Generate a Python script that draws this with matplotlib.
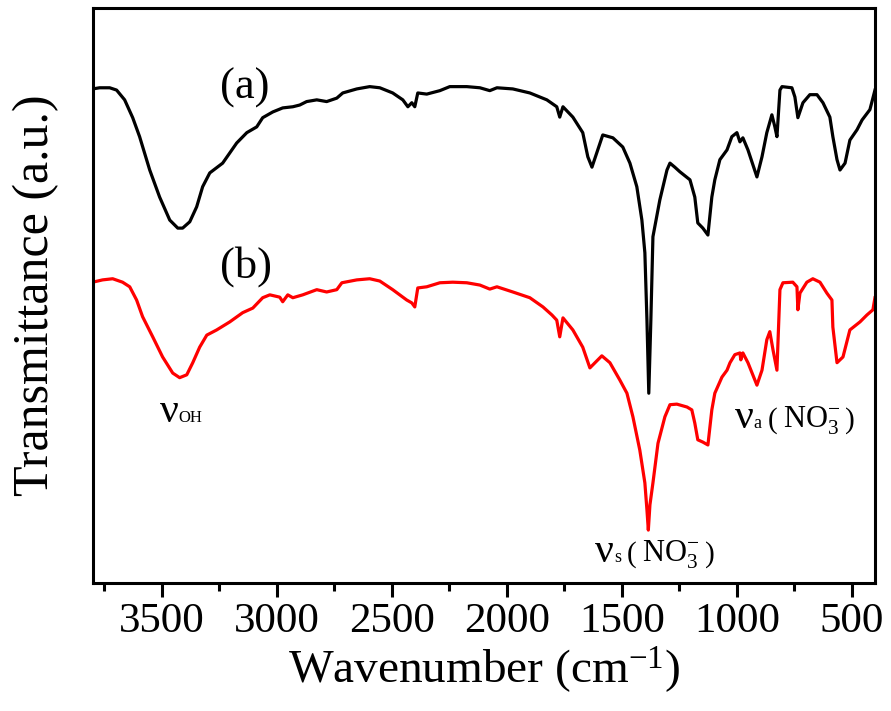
import matplotlib
matplotlib.use("Agg")
import matplotlib.pyplot as plt
from matplotlib.ticker import MultipleLocator
from matplotlib.offsetbox import TextArea, HPacker, AnnotationBbox

plt.rcParams['font.family'] = 'Liberation Serif'
plt.rcParams['mathtext.fontset'] = 'custom'
plt.rcParams['mathtext.rm'] = 'Liberation Serif'
plt.rcParams['mathtext.it'] = 'Liberation Serif:italic'

# spectrum (a), black
wn_a = [3800, 3770, 3726, 3696, 3661, 3626, 3596, 3552, 3509, 3465, 3430, 3409,
        3378, 3348, 3322, 3291, 3235, 3174, 3130, 3087, 3061, 3017, 2974, 2930,
        2900, 2870, 2826, 2783, 2739, 2713, 2652, 2596, 2552, 2496, 2452, 2430,
        2413, 2400, 2387, 2348, 2291, 2248, 2174, 2117, 2074, 2043, 1974, 1900,
        1826, 1783, 1770, 1756, 1713, 1670, 1648, 1630, 1609, 1583, 1539, 1496,
        1465, 1435, 1413, 1400, 1391, 1383, 1374, 1365, 1335, 1304, 1291, 1270,
        1248, 1204, 1183, 1170, 1148, 1126, 1109, 1096, 1074, 1043, 1022, 1000,
        987, 974, 952, 913, 891, 870, 848, 835, 826, 813, 804, 761, 748, 735,
        713, 683, 652, 626, 596, 583, 565, 552, 530, 509, 478, 456, 422, 409, 400]
t_a = [85.9, 86.1, 86.1, 85.7, 84.0, 80.9, 77.6, 71.8, 67.1, 63.1, 61.7, 61.7,
       62.8, 65.4, 68.9, 71.3, 73.0, 76.5, 78.3, 79.3, 80.9, 81.9, 82.6, 82.8,
       83.1, 83.7, 84.0, 83.7, 84.3, 85.2, 85.9, 86.3, 86.1, 85.2, 84.0, 82.8,
       83.5, 82.8, 85.2, 85.0, 85.6, 86.3, 86.3, 86.1, 85.6, 86.1, 85.9, 85.2,
       84.0, 82.8, 81.0, 82.8, 81.0, 78.3, 74.1, 72.3, 74.8, 77.9, 77.4, 75.8,
       73.0, 68.9, 63.1, 57.4, 45.7, 33.0, 45.7, 60.2, 66.6, 71.8, 73.0, 72.3,
       71.5, 70.1, 67.1, 62.6, 61.7, 60.5, 67.1, 70.1, 73.6, 75.3, 77.6, 78.3,
       76.7, 77.4, 75.3, 70.6, 74.1, 78.3, 81.4, 79.3, 77.6, 85.7, 86.3, 86.1, 84.5, 80.9,
       83.5, 84.9, 84.9, 83.5, 81.0, 77.6, 73.6, 71.8, 73.0, 77.0, 78.8, 80.5, 82.3, 84.3, 85.7]

# spectrum (b), red
wn_b = [3800, 3757, 3713, 3670, 3639, 3609, 3583, 3539, 3496, 3452, 3422, 3391,
        3365, 3335, 3304, 3261, 3204, 3148, 3104, 3061, 3030, 2987, 2974, 2952,
        2930, 2887, 2826, 2783, 2739, 2717, 2652, 2596, 2552, 2496, 2435, 2413,
        2400, 2387, 2348, 2291, 2235, 2174, 2117, 2074, 2043, 1974, 1900, 1843,
        1804, 1783, 1770, 1756, 1713, 1670, 1639, 1587, 1552, 1509, 1478, 1452,
        1422, 1400, 1391, 1385, 1378, 1365, 1343, 1313, 1291, 1261, 1217, 1196,
        1183, 1170, 1148, 1126, 1109, 1096, 1065, 1043, 1030, 1009, 987, 983,
        974, 952, 913, 891, 870, 857, 843, 826, 813, 800, 757, 739, 735, 726,
        696, 670, 639, 609, 587, 583, 565, 539, 509, 465, 435, 409, 400]
t_b = [52.3, 52.7, 52.9, 52.3, 51.5, 49.2, 46.3, 42.8, 39.3, 36.5, 35.7, 36.2,
       38.3, 41.0, 43.1, 44.0, 45.4, 47.0, 47.8, 49.6, 50.1, 49.7, 48.9, 50.1,
       49.6, 50.1, 51.0, 50.6, 51.0, 52.2, 52.7, 52.9, 52.5, 51.0, 49.2, 48.7,
       48.0, 51.3, 51.5, 52.2, 52.3, 52.2, 51.8, 51.1, 51.5, 50.6, 49.6, 48.0,
       46.6, 45.7, 42.8, 46.1, 44.0, 41.0, 37.4, 39.5, 38.3, 35.3, 33.0, 28.9,
       23.1, 17.4, 12.7, 9.2, 13.6, 17.4, 24.3, 28.9, 31.0, 31.1, 30.6, 30.1,
       27.8, 24.9, 24.5, 24.0, 30.1, 33.0, 35.8, 37.0, 38.3, 39.7, 40.0, 38.8,
       40.0, 38.3, 34.4, 37.0, 42.3, 43.7, 40.5, 37.0, 51.0, 52.2, 52.3, 51.5, 47.5, 50.4,
       52.3, 52.9, 52.3, 50.4, 49.2, 44.5, 38.3, 39.3, 44.0, 45.4, 46.6, 47.5, 49.6]

fig = plt.figure(figsize=(8.91, 7.11), dpi=100)
ax = fig.add_axes([0.104, 0.180, 0.878, 0.809])

ax.plot(wn_a, t_a, color='black', lw=2.3, solid_joinstyle='round')
ax.plot(wn_b, t_b, color='#ff0000', lw=2.3, solid_joinstyle='round')

ax.set_xlim(3800, 400)
ax.set_ylim(0, 100)
ax.xaxis.set_major_locator(MultipleLocator(500))
ax.xaxis.set_minor_locator(MultipleLocator(250))
ax.tick_params(axis='x', which='major', direction='out', length=10, width=2.2,
               labelsize=31, pad=4, top=False)
ax.tick_params(axis='x', which='minor', direction='out', length=6, width=2.2, top=False)
ax.tick_params(axis='y', which='both', left=False, right=False, labelleft=False)
for s in ax.spines.values():
    s.set_linewidth(2.2)

ax.set_xlabel('Wavenumber (cm$^{-1}$)', fontsize=34, labelpad=2)
ax.set_ylabel('Transmittance (a.u.)', fontsize=36, labelpad=24)

ax.text(3139, 86.1, '(a)', fontsize=32, ha='center', va='center')
ax.text(3135, 55.0, '(b)', fontsize=32, ha='center', va='center')


def nu_label(sub, xy, ion=True):
    # nu with a small subscript, optionally followed by (NO3-)
    nu = HPacker(children=[TextArea('ν', textprops=dict(fontsize=30)),
                           TextArea(sub, textprops=dict(fontsize=13 if ion else 12))],
                 align='baseline', pad=0, sep=0)
    kids = [nu]
    if ion:
        kids += [TextArea('(', textprops=dict(fontsize=21)),
                 TextArea('NO$_3^{-}$', textprops=dict(fontsize=22)),
                 TextArea(')', textprops=dict(fontsize=21))]
    pack = HPacker(children=kids, align='baseline', pad=0, sep=4)
    ab = AnnotationBbox(pack, xy, xycoords='data', frameon=False,
                        box_alignment=(0, 0.5), pad=0)
    ax.add_artist(ab)


nu_label('OH', (3509, 29.7), ion=False)
nu_label('s', (1617, 5.4))
nu_label('a', (1009, 28.7))

fig.savefig('out.png', dpi=100)
